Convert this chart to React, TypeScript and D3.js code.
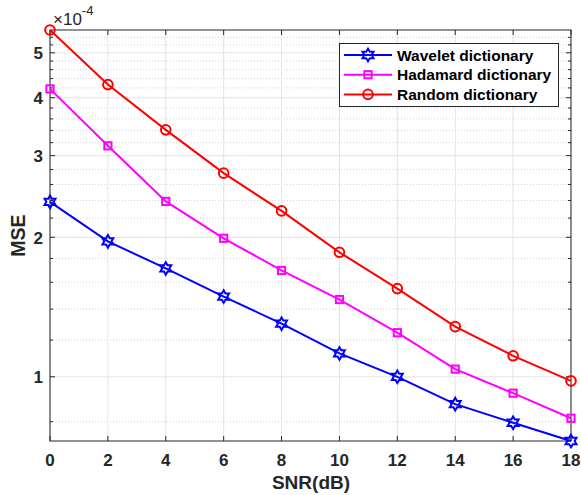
import React from "react";
import * as d3 from "d3";

const snr = [0, 2, 4, 6, 8, 10, 12, 14, 16, 18];
const wavelet = [2.385, 1.96, 1.713, 1.49, 1.302, 1.123, 1.0, 0.873, 0.796, 0.727];
const hadamard = [4.18, 3.15, 2.39, 1.99, 1.696, 1.468, 1.245, 1.039, 0.922, 0.814];
const random = [5.6, 4.27, 3.41, 2.75, 2.28, 1.856, 1.55, 1.283, 1.11, 0.98];
const seriesNames = ["Wavelet dictionary", "Hadamard dictionary", "Random dictionary"];
const seriesColors = ["#0000ff", "#ff00ff", "#ff0000"];
const xTicks = [0, 2, 4, 6, 8, 10, 12, 14, 16, 18];
const yMajor = [1, 2, 3, 4, 5];
const yMinor = [0.8, 1.2, 1.4, 1.6, 1.8, 2.2, 2.4, 2.6, 2.8, 3.2, 3.4, 3.6, 3.8, 4.2, 4.4, 4.6, 4.8, 5.2, 5.4];

const W = 581, H = 495;
const L = 50, R = 571, T = 30, B = 441;
const FONT = "'Liberation Sans', Arial, Helvetica, sans-serif";
const AX = "#262626";

function hexagram(cx: number, cy: number, r: number) {
  const ri = r / Math.sqrt(3);
  const pts: string[] = [];
  for (let i = 0; i < 12; i++) {
    const a = -Math.PI / 2 + (i * Math.PI) / 6;
    const rr = i % 2 === 0 ? r : ri;
    pts.push(`${cx + rr * Math.cos(a)},${cy + rr * Math.sin(a)}`);
  }
  return "M" + pts.join("L") + "Z";
}

function Marker({ kind, x, y, color }: { kind: number; x: number; y: number; color: string }) {
  if (kind === 0) return <path d={hexagram(x, y, 6.3)} fill="none" stroke={color} strokeWidth={2} strokeLinejoin="miter" />;
  if (kind === 1) return <rect x={x - 3.6} y={y - 3.6} width={7.2} height={7.2} fill="none" stroke={color} strokeWidth={2} />;
  return <circle cx={x} cy={y} r={4.8} fill="none" stroke={color} strokeWidth={2} />;
}

export default function App() {
  const all = [...wavelet, ...hadamard, ...random];
  const ext = d3.extent(all) as [number, number];
  const x = d3.scaleLinear().domain([0, 18]).range([L, R]);
  const y = d3.scaleLog().domain(ext).range([B, T]);
  const data = [wavelet, hadamard, random];
  const line = d3
    .line<number>()
    .x((_, i) => x(snr[i]))
    .y((d) => y(d));

  return (
    <svg width={W} height={H} style={{ position: "absolute", left: 0, top: 0, background: "#fff" }} fontFamily={FONT}>
      <rect x={0} y={0} width={W} height={H} fill="#fff" />
      {yMinor.map((v) => (
        <line key={"mg" + v} x1={L} x2={R} y1={y(v)} y2={y(v)} stroke="#c8c8c8" strokeWidth={0.8} strokeDasharray="1,2" />
      ))}
      {yMajor.map((v) => (
        <line key={"yg" + v} x1={L} x2={R} y1={y(v)} y2={y(v)} stroke="#e3e3e3" strokeWidth={1} />
      ))}
      {xTicks.map((v) => (
        <line key={"xg" + v} x1={x(v)} x2={x(v)} y1={T} y2={B} stroke="#e3e3e3" strokeWidth={1} />
      ))}
      <rect x={L} y={T} width={R - L} height={B - T} fill="none" stroke={AX} strokeWidth={1} />
      {xTicks.map((v) => (
        <g key={"xt" + v}>
          <line x1={x(v)} x2={x(v)} y1={B} y2={B - 5} stroke={AX} />
          <line x1={x(v)} x2={x(v)} y1={T} y2={T + 5} stroke={AX} />
          <text x={x(v)} y={465.5} textAnchor="middle" fontSize={17} fontWeight="bold" fill={AX}>
            {v}
          </text>
        </g>
      ))}
      {yMajor.map((v) => (
        <g key={"yt" + v}>
          <line x1={L} x2={L + 5} y1={y(v)} y2={y(v)} stroke={AX} />
          <line x1={R} x2={R - 5} y1={y(v)} y2={y(v)} stroke={AX} />
          <text x={43} y={y(v) + 6.5} textAnchor="end" fontSize={17} fontWeight="bold" fill={AX}>
            {v}
          </text>
        </g>
      ))}
      {yMinor.map((v) => (
        <g key={"ym" + v}>
          <line x1={L} x2={L + 3} y1={y(v)} y2={y(v)} stroke={AX} />
          <line x1={R} x2={R - 3} y1={y(v)} y2={y(v)} stroke={AX} />
        </g>
      ))}
      <text x={53} y={25} fontSize={17} fill={AX}>
        <tspan>×10</tspan>
        <tspan dy={-10} fontSize={13}>-4</tspan>
      </text>
      <text x={311} y={489} textAnchor="middle" fontSize={19} fontWeight="bold" fill={AX}>
        SNR(dB)
      </text>
      <text transform={`translate(25,235.5) rotate(-90)`} textAnchor="middle" fontSize={19.5} fontWeight="bold" fill={AX}>
        MSE
      </text>
      {data.map((s, k) => (
        <g key={"s" + k}>
          <path d={line(s) || ""} fill="none" stroke={seriesColors[k]} strokeWidth={2} />
          {s.map((v, i) => (
            <Marker key={i} kind={k} x={x(snr[i])} y={y(v)} color={seriesColors[k]} />
          ))}
        </g>
      ))}
      <rect x={339.5} y={43.5} width={219} height={63} fill="#fff" stroke={AX} strokeWidth={1} />
      {seriesNames.map((n, k) => {
        const ly = 55 + k * 19.7;
        return (
          <g key={"lg" + k}>
            <line x1={344} x2={392} y1={ly} y2={ly} stroke={seriesColors[k]} strokeWidth={2} />
            <Marker kind={k} x={368} y={ly} color={seriesColors[k]} />
            <text x={397} y={ly + 5.5} fontSize={15.5} fontWeight="bold" fill="#000">
              {n}
            </text>
          </g>
        );
      })}
    </svg>
  );
}
